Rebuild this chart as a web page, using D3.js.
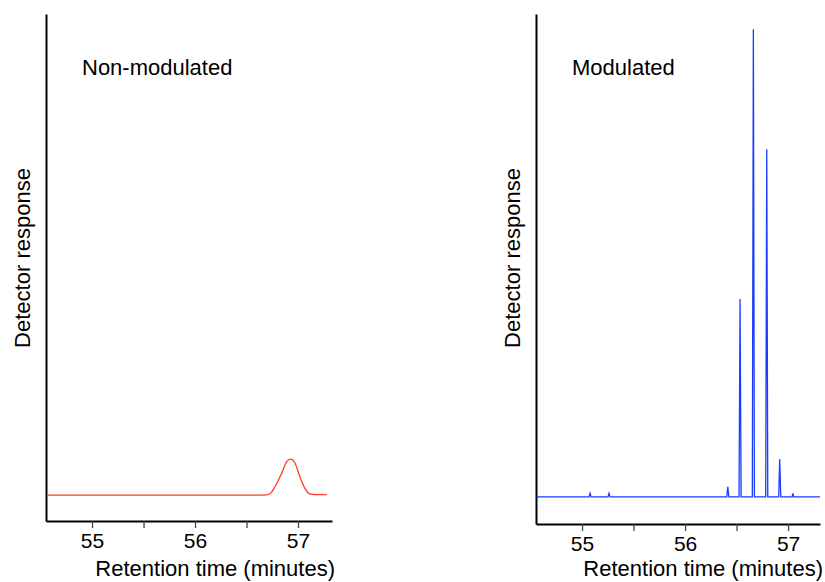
<!DOCTYPE html>
<html>
<head>
<meta charset="utf-8">
<script src="https://cdn.jsdelivr.net/npm/d3@7/dist/d3.min.js"></script>
<style>
  body { margin: 0; background: #fff; }
  text { font-family: "Liberation Sans", Arial, sans-serif; fill: #000; }
</style>
</head>
<body>
<div id="chart"></div>
<script>
// panel data (time in minutes, response in arbitrary units 0-100)
var tickValues = [55, 55.5, 56, 56.5, 57];
var xTitle = "Retention time (minutes)";
var yTitle = "Detector response";

var nonModTitle = "Non-modulated";
var nonModTime = [54.56, 56.60, 56.696, 56.74, 56.777, 56.842, 56.89, 56.929, 56.971, 57.019, 57.068, 57.117, 57.16, 57.279];
var nonModResp = [5.1, 5.1, 5.15, 5.6, 6.8, 9.4, 11.7, 12.2, 11.4, 8.7, 6.4, 5.35, 5.2, 5.2];

var modTitle = "Modulated";
var modTime = [54.56,
    55.068, 55.078, 55.088,
    55.252, 55.262, 55.272,
    56.405, 56.415, 56.425,
    56.524, 56.534, 56.544,
    56.653, 56.663, 56.673,
    56.783, 56.793, 56.803,
    56.909, 56.919, 56.929,
    57.039, 57.047, 57.055,
    57.31];
var modResp = [5.3,
    5.3, 6.0, 5.3,
    5.3, 6.0, 5.3,
    5.3, 7.3, 5.3,
    5.3, 44.1, 5.3,
    5.3, 97.0, 5.3,
    5.3, 73.5, 5.3,
    5.3, 12.7, 5.3,
    5.3, 6.0, 5.3,
    5.3];

var svg = d3.select("#chart").append("svg")
    .attr("width", 825)
    .attr("height", 582);

function drawPanel(p) {
    var x = d3.scaleLinear()
        .domain([54.553, p.xMax])
        .range([p.left, p.right]);
    var y = d3.scaleLinear()
        .domain([0, 100])
        .range([p.bottom, 14]);

    var g = svg.append("g");

    // x axis
    var xAxis = d3.axisBottom(x)
        .tickValues(tickValues)
        .tickSizeInner(7)
        .tickSizeOuter(0)
        .tickPadding(5)
        .tickFormat(function(d) { return d % 1 === 0 ? d : ""; });
    var ax = g.append("g")
        .attr("transform", "translate(0," + p.bottom + ")")
        .call(xAxis);
    ax.select(".domain").attr("stroke", "#000").attr("stroke-width", 2);
    ax.selectAll(".tick line").attr("stroke", "#444").attr("stroke-width", 1.3);
    ax.selectAll(".tick text")
        .style("font-family", "'Liberation Sans', Arial, sans-serif")
        .style("font-size", "21px")
        .attr("fill", "#000");

    // y axis: plain line
    var yAxis = d3.axisLeft(y).tickValues([]).tickSizeOuter(0);
    var ay = g.append("g")
        .attr("transform", "translate(" + p.left + ",0)")
        .call(yAxis);
    ay.select(".domain").attr("stroke", "#000").attr("stroke-width", 2);

    // trace
    var pts = p.time.map(function(t, i) { return [t, p.resp[i]]; });
    var line = d3.line()
        .x(function(d) { return x(d[0]); })
        .y(function(d) { return y(d[1]); })
        .curve(p.curve);
    g.append("path")
        .datum(pts)
        .attr("fill", "none")
        .attr("stroke", p.color)
        .attr("stroke-width", p.width)
        .attr("d", line);

    // labels
    g.append("text")
        .attr("x", p.left + p.titleDx)
        .attr("y", 75)
        .style("font-size", "22px")
        .text(p.title);

    g.append("text")
        .attr("transform", "translate(" + (p.left - 16) + ",258) rotate(-90)")
        .attr("text-anchor", "middle")
        .style("font-size", "22px")
        .text(yTitle);

    g.append("text")
        .attr("x", p.right + 3)
        .attr("y", 576)
        .attr("text-anchor", "end")
        .style("font-size", "22px")
        .text(xTitle);
}

drawPanel({ left: 46, right: 332, bottom: 521, xMax: 57.33, time: nonModTime, resp: nonModResp,
    color: "#ff3b1f", width: 1.3, curve: d3.curveMonotoneX, title: nonModTitle, titleDx: 36 });
drawPanel({ left: 536, right: 820, bottom: 524, xMax: 57.31, time: modTime, resp: modResp,
    color: "#1a3cff", width: 1.3, curve: d3.curveLinear, title: modTitle, titleDx: 36 });
</script>
</body>
</html>
